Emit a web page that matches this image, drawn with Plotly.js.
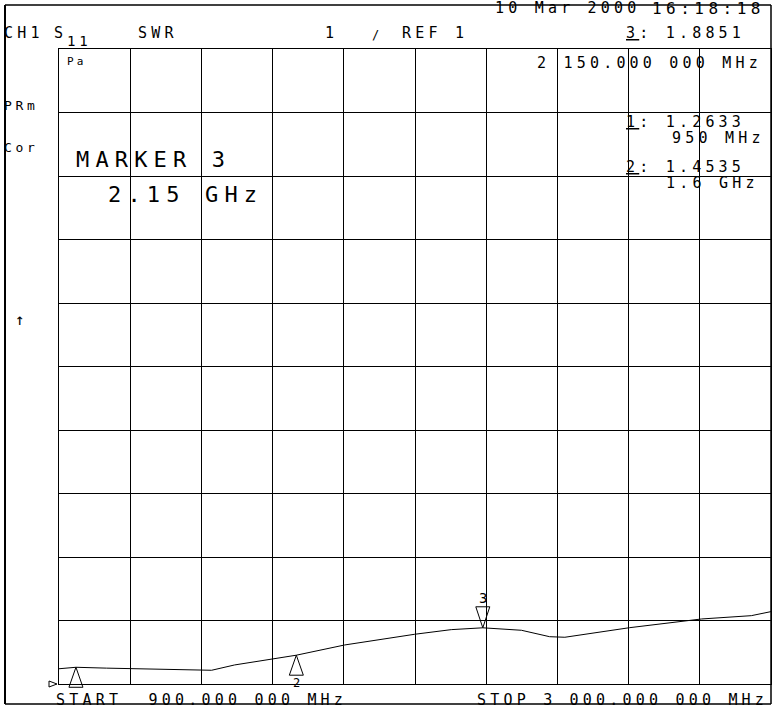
<!DOCTYPE html>
<html>
<head>
<meta charset="utf-8">
<script src="https://cdn.plot.ly/plotly-3.0.1.min.js"></script>
<style>
html,body{margin:0;padding:0;background:#fff;}
#chart{width:773px;height:711px;}
.annotation-text{letter-spacing:0.28em;}
</style>
</head>
<body>
<div id="chart"></div>
<script>
// Sweep data: frequency (MHz) vs SWR
var freqMHz = [900, 950, 1040, 1221, 1350, 1418, 1526, 1600, 1743, 1949, 2057, 2150, 2264, 2328, 2347, 2392, 2583, 2795, 2942, 3000];
var swr     = [1.24, 1.2633, 1.25, 1.225, 1.216, 1.30, 1.39, 1.4535, 1.615, 1.783, 1.856, 1.8851, 1.846, 1.772, 1.745, 1.736, 1.887, 2.024, 2.076, 2.14];

// Markers
var markerNames = ['1', '2', '3'];
var markerFreq  = [950, 1600, 2150];
var markerSWR   = [1.2633, 1.4535, 1.8851];
var activeMarker = '3';

// Scale
var startMHz = 900, stopMHz = 3000;
var refValue = 1, perDiv = 1, divisions = 10;

// Header / readout texts
var headerTexts = {
  ch: 'CH1', s: 'S', sub: '11', fmt: 'SWR', scale: '1', slash: '/', ref: 'REF 1',
  date: '10 Mar 2000', time: '16:18:18',
  activeReadout: '<u>3</u>: 1.8851',
  stim: '2 150.000 000 MHz',
  m1val: '<u>1</u>: 1.2633', m1freq: '950 MHz',
  m2val: '<u>2</u>: 1.4535', m2freq: '1.6 GHz',
  prm: 'PRm', cor: 'Cor',
  bigTitle: 'MARKER 3', bigFreq: '2.15 GHz',
  start: 'START  900.000 000 MHz', stop: 'STOP 3 000.000 000 MHz'
};

// Layout geometry (pixels)
var L = 59, R = 2, T = 49, B = 27, W = 773, H = 711;
var pw = W - L - R, ph = H - T - B;
function px(x){ return (x - L) / pw; }
function py(y){ return (H - B - y) / ph; }
// fraction of plot height for a value on the SWR axis
function yFrac(v){ return (v - refValue) / (perDiv * divisions); }

var FONT = '"DejaVu Sans Mono", monospace';
function txt(text, x, y, size, anchor){
  return {text: text, xref: 'paper', yref: 'paper', x: px(x), y: py(y),
    xanchor: anchor || 'left', yanchor: 'middle', showarrow: false,
    font: {family: FONT, size: size || 15, color: '#000'}, borderpad: 0};
}

var annotations = [
  txt(headerTexts.ch, 3, 33),
  txt(headerTexts.s, 53, 33),
  txt(headerTexts.sub, 66, 41, 14),
  txt(headerTexts.fmt, 137, 33),
  txt(headerTexts.scale, 324, 33),
  txt(headerTexts.slash, 371, 35, 12),
  txt(headerTexts.ref, 401, 33),
  txt(headerTexts.date, 494, 8),
  txt(headerTexts.time, 651, 8, 16),
  txt(headerTexts.activeReadout, 625, 33),
  txt(headerTexts.stim, 536, 63),
  txt(headerTexts.m1val, 625, 122),
  txt(headerTexts.m1freq, 671, 138),
  txt(headerTexts.m2val, 625, 167),
  txt(headerTexts.m2freq, 665, 183),
  txt(headerTexts.prm, 3, 105, 13),
  txt(headerTexts.cor, 3, 147, 13),
  txt(headerTexts.bigTitle, 75, 160, 22),
  txt(headerTexts.bigFreq, 107, 195, 22),
  txt('↑', 14, 319, 16),
  txt('Pa', 66, 62, 11),
  txt(headerTexts.start, 55, 700),
  txt(headerTexts.stop, 476, 700)
];

// marker number labels
for (var i = 0; i < markerNames.length; i++) {
  if (markerNames[i] === '1') continue;
  var up = markerNames[i] !== activeMarker;
  annotations.push({
    text: markerNames[i], xref: 'x', yref: 'y', x: markerFreq[i], y: markerSWR[i],
    xanchor: 'center', yanchor: 'middle', showarrow: false, yshift: up ? -28 : 30, xshift: 2,
    font: {family: FONT, size: up ? 12 : 14, color: '#000'}, borderpad: 0
  });
}

var shapes = [
  // outer frame
  {type: 'line', xref: 'paper', yref: 'paper', x0: px(5), x1: px(5), y0: py(5), y1: py(704), line: {color: '#000', width: 2}},
  {type: 'line', xref: 'paper', yref: 'paper', x0: px(5), x1: 1, y0: py(5), y1: py(5), line: {color: '#000', width: 1.5}},
  {type: 'line', xref: 'paper', yref: 'paper', x0: px(5), x1: 1, y0: py(704), y1: py(704), line: {color: '#000', width: 1.5}},
  {type: 'line', xref: 'paper', yref: 'paper', x0: 1, x1: 1, y0: py(5), y1: py(704), line: {color: '#000', width: 1.5}},
  // reference level pointer (reference position at bottom of graticule)
  {type: 'path', xref: 'paper', yref: 'paper', xsizemode: 'pixel', ysizemode: 'pixel', xanchor: 0, yanchor: yFrac(refValue),
   path: 'M-10,3 L-10,-3 L-2,0 Z', line: {color: '#000', width: 1}}
];
for (var j = 0; j < markerNames.length; j++) {
  var isActive = markerNames[j] === activeMarker;
  shapes.push({type: 'path', xref: 'x', yref: 'paper', xsizemode: 'pixel', ysizemode: 'pixel',
    xanchor: markerFreq[j], yanchor: yFrac(markerSWR[j]),
    path: isActive ? 'M0,0 L-7,21 L7,21 Z' : 'M0,0 L-7,-20 L7,-20 Z',
    line: {color: '#000', width: 1}});
}

var trace = {x: freqMHz, y: swr, type: 'scatter', mode: 'lines',
  line: {color: '#000', width: 1}, hoverinfo: 'none'};

var axisCommon = {showgrid: true, gridcolor: '#000', gridwidth: 1, showline: true, linecolor: '#000',
  linewidth: 1, mirror: true, showticklabels: false, ticks: '', zeroline: false, fixedrange: true};

var layout = {
  width: W, height: H, margin: {l: L, r: R, t: T, b: B, pad: 0},
  paper_bgcolor: '#fff', plot_bgcolor: '#fff', showlegend: false,
  xaxis: Object.assign({range: [startMHz, stopMHz], tick0: startMHz, dtick: (stopMHz - startMHz) / divisions}, axisCommon),
  yaxis: Object.assign({range: [refValue, refValue + perDiv * divisions], tick0: refValue, dtick: perDiv}, axisCommon),
  annotations: annotations, shapes: shapes
};

Plotly.newPlot('chart', [trace], layout, {displayModeBar: false, staticPlot: true});
</script>
</body>
</html>
